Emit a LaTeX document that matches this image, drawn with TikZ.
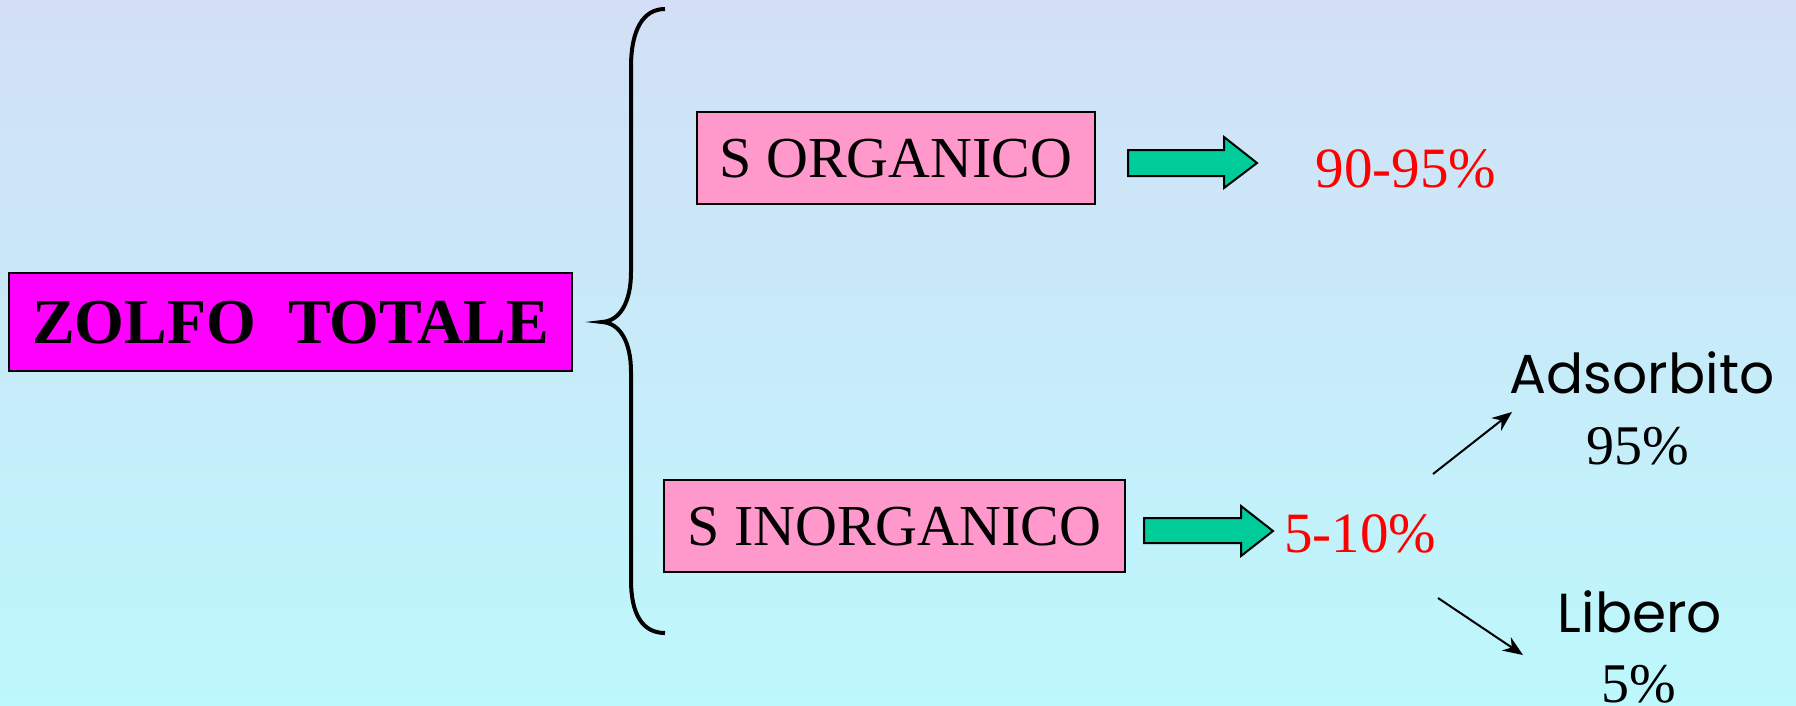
\documentclass[tikz,border=0pt]{standalone}
\usepackage{fontspec}
\setmainfont{Liberation Serif}
\newfontfamily\comicfont{Poppins}
\usetikzlibrary{arrows.meta}
\definecolor{bgtop}{RGB}{211,223,246}
\definecolor{bgbot}{RGB}{188,248,252}
\definecolor{zmag}{RGB}{255,0,255}
\definecolor{spink}{RGB}{255,153,204}
\definecolor{agreen}{RGB}{0,204,153}
\definecolor{pred}{RGB}{255,0,0}
\tikzset{
 bigbox/.style={draw=black, line width=2.5pt, fill=zmag, minimum width=563pt, minimum height=98pt, inner sep=0pt, text height=43pt, text depth=0pt, font=\fontsize{64}{72}\selectfont\bfseries},
 sbox/.style={draw=black, line width=2pt, fill=spink, inner sep=0pt, text height=39pt, text depth=0pt, font=\fontsize{58}{66}\selectfont},
 redtxt/.style={text=pred, inner sep=0pt, anchor=base, font=\fontsize{57}{64}\selectfont},
 blktxt/.style={inner sep=0pt, anchor=base, font=\fontsize{56}{64}\selectfont},
 comictxt/.style={inner sep=0pt, anchor=base, font=\comicfont\fontsize{55}{64}\selectfont},
 blockarrow/.style={draw=black, line width=2pt, fill=agreen, line join=miter},
 thinarrow/.style={line width=2pt, -{Stealth[length=20pt,width=16pt]}},
 bracestyle/.style={line width=4pt},
}
\begin{document}
\begin{tikzpicture}[x=1pt,y=-1pt]
\useasboundingbox (0,0) rectangle (1796,705);
\shade[top color=bgtop,bottom color=bgbot] (0,0) rectangle (1796,705);

\node[bigbox] (zt) at (290.5,322) {ZOLFO\ \ TOTALE};
\node[sbox, minimum width=398pt, minimum height=92pt] (so) at (896,158) {S ORGANICO};
\node[sbox, minimum width=461pt, minimum height=92pt] (si) at (894.5,526) {S INORGANICO};

\draw[bracestyle] (665,9) .. controls (643,9) and (631,30) .. (631,67) -- (631,272)
  .. controls (631,302) and (620,321) .. (602,322)
  .. controls (620,323) and (631,342) .. (631,372) -- (631,580)
  .. controls (631,615) and (643,633) .. (665,633);

\draw[blockarrow] (1128,150) -- (1224,150) -- (1224,137) -- (1257,163) -- (1224,188) -- (1224,176) -- (1128,176) -- cycle;
\draw[blockarrow] (1144,518) -- (1241,518) -- (1241,506) -- (1273,531) -- (1241,556) -- (1241,543) -- (1144,543) -- cycle;

\node[redtxt] (p1) at (1406,187) {90-95\%};
\node[redtxt] (p2) at (1360,552) {5-10\%};
\node[comictxt] (ads) at (1642,393) {Adsorbito};
\node[blktxt] (p3) at (1638,464) {95\%};
\node[comictxt] (lib) at (1640,632) {Libero};
\node[blktxt] (p4) at (1639,702) {5\%};

\coordinate (u0) at (1433,474);
\coordinate (u1) at (1512,412);
\coordinate (d0) at (1438,598);
\coordinate (d1) at (1523,655);
\draw[thinarrow] (u0) -- (u1);
\draw[thinarrow] (d0) -- (d1);
\end{tikzpicture}
\end{document}
